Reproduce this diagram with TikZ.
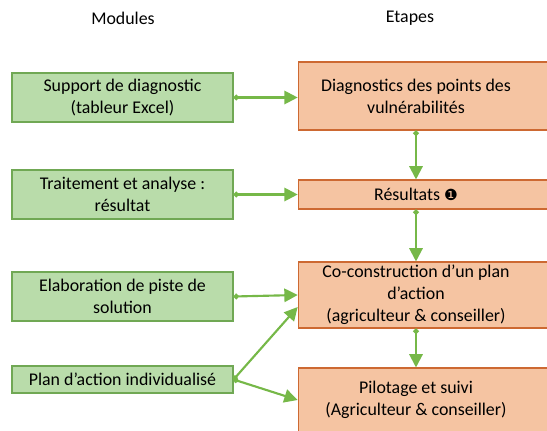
\documentclass[tikz,border=0pt]{standalone}
\usepackage{fontspec}
\setmainfont{Carlito}
\newfontfamily\symfont{DejaVu Sans}
\usetikzlibrary{arrows.meta}

\definecolor{modfill}{RGB}{185,220,170}
\definecolor{modline}{RGB}{112,168,84}
\definecolor{etfill}{RGB}{245,196,162}
\definecolor{etline}{RGB}{205,105,50}
\definecolor{flow}{RGB}{118,184,72}

\tikzset{
  module/.style={draw=modline, fill=modfill, line width=0.8pt, minimum width=165.75pt, align=center,
    inner ysep=1pt, font=\fontsize{13.4}{16.5}\selectfont},
  etape/.style={draw=etline, fill=etfill, line width=0.8pt, minimum width=183.75pt, inner ysep=0.5pt,
    font=\fontsize{13.4}{16.5}\selectfont,
    execute at begin node={\begin{minipage}{170pt}\centering},
    execute at end node={\end{minipage}\hspace*{17.25pt}}},
  fleche/.style={draw=flow, line width=1.6pt, {Circle[length=4pt]}-{Triangle[length=10pt,width=10pt]}}
}

\begin{document}
\begin{tikzpicture}[x=0.75pt, y=-0.75pt]
  \useasboundingbox (0,0) rectangle (547,430);

  % headings
  \node[font=\fontsize{13.4}{15}\selectfont] (modules) at (123,18) {Modules};
  \node[font=\fontsize{13.4}{15}\selectfont] (etapes) at (410,18) {Etapes};

  % modules (left column)
  \node[module, minimum height=36.75pt] (m1) at (122.5,97.5) {Support de diagnostic\\(tableur Excel)};
  \node[module, minimum height=36.75pt] (m2) at (122.5,194.5) {Traitement et analyse :\\résultat};
  \node[module, minimum height=36.75pt] (m3) at (122.5,296.5) {Elaboration de piste de\\solution};
  \node[module, minimum height=20.25pt] (m4) at (122.5,379.5) {Plan d’action individualisé};

  % etapes (right column)
  \node[etape, minimum height=51pt] (a) at (427.5,96) {Diagnostics des points des\\vulnérabilités\\[6pt]};
  \node[etape, minimum height=21.75pt] (b) at (427.5,194.5) {Résultats {\symfont\fontsize{11.5}{14}\selectfont ❶}};
  \node[etape, minimum height=49.5pt] (c) at (427.5,295) {Co-construction d’un plan\\d’action\\(agriculteur \& conseiller)};
  \node[etape, minimum height=48pt] (d) at (427.5,400) {Pilotage et suivi\\(Agriculteur \& conseiller)\\[6pt]};

  \coordinate (axe) at (416,0);

  % modules -> etapes
  \draw[fleche] (m1.east) -- (a.west |- m1.east);
  \draw[fleche] (m2.east) -- (b.west);
  \draw[fleche] (m3.east) -- (c.west);
  \draw[fleche] (m4.east) -- ([yshift=-9pt]c.west);
  \draw[fleche] (m4.east) -- (d.west);

  % enchainement des etapes
  \draw[fleche] (a.south -| axe) -- (b.north -| axe);
  \draw[fleche] (b.south -| axe) -- (c.north -| axe);
  \draw[fleche] (c.south -| axe) -- (d.north -| axe);
\end{tikzpicture}
\end{document}
